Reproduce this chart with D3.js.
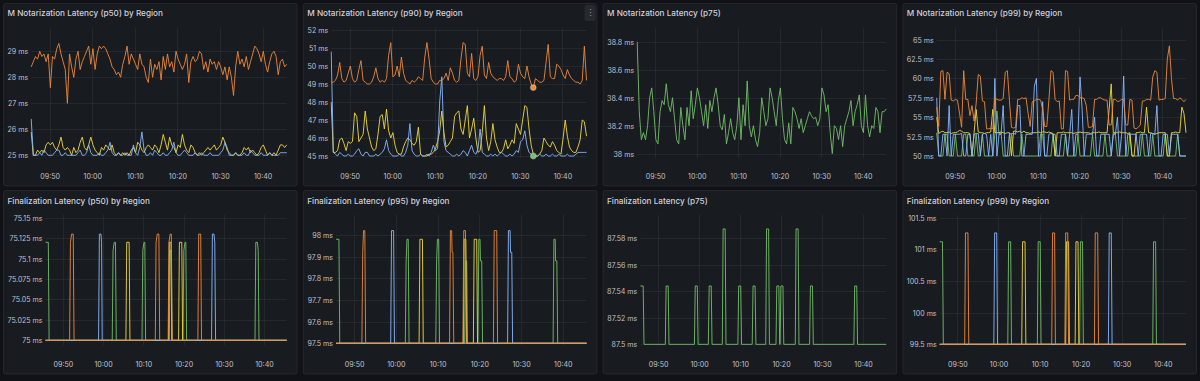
<!DOCTYPE html>
<html><head><meta charset="utf-8">
<script src="https://cdn.jsdelivr.net/npm/d3@7"></script>
<style>
html,body{margin:0;padding:0;background:#111217;}
svg{display:block;}
</style></head><body>
<svg id="c" width="1200" height="381"></svg>
<script>
// ---------- time range & ticks ----------
const T_START = "09:45:40", T_END = "10:45:40";
const X_TICKS = ["09:50","10:00","10:10","10:20","10:30","10:40"];

// ---------- y tick labels (ms) ----------
const yTicksN50 = [25,26,27,28,29];
const yTicksN90 = [45,46,47,48,49,50,51,52];
const yTicksN75 = [38,38.2,38.4,38.6,38.8];
const yTicksN99 = [50,52.5,55,57.5,60,62.5,65];
const yTicksF50 = [75,75.025,75.05,75.075,75.1,75.125,75.15];
const yTicksF95 = [97.5,97.6,97.7,97.8,97.9,98];
const yTicksF75 = [87.5,87.52,87.54,87.56,87.58];
const yTicksF99 = [99.5,100,100.5,101,101.5];

// ---------- M Notarization p50 (evenly spaced samples) ----------
const n50Yellow = [25.9,25.0,25.0,25.2,25.1,25.2,25.1,25.4,25.5,25.4,
 25.5,25.3,25.2,25.4,25.7,25.3,25.2,25.3,25.2,25.0,
 25.3,25.1,25.2,25.5,25.7,25.3,25.2,25.4,25.7,25.4,
 25.2,25.1,25.0,25.3,25.2,25.4,25.3,25.2,25.4,25.1,
 25.0,25.1,25.0,25.1,25.0,25.1,25.0,25.2,25.3,25.1,
 25.5,25.4,25.2,25.1,25.3,25.4,25.3,25.2,25.4,25.3,
 25.1,25.4,25.8,25.5,25.2,25.7,25.4,25.3,25.1,25.4,
 25.3,25.8,25.4,25.2,25.1,25.4,25.3,25.1,25.0,25.1,
 25.0,25.1,25.2,25.3,25.2,25.3,25.4,25.2,25.3,25.4,
 25.7,25.5,25.2,25.1,25.0,25.0,25.1,25.0,25.0,25.1,
 25.3,25.2,25.3,25.1,25.2,25.1,25.0,25.1,25.3,25.4,
 25.2,25.0,25.1,25.0,25.1,25.0,25.2,25.4,25.4,25.3,25.4];
const n50Blue = [26.4,25.0,25.0,25.0,25.1,25.0,25.2,25.1,25.0,25.0,
 25.0,25.1,25.2,25.2,25.0,25.0,25.1,25.0,25.0,25.0,
 25.0,25.0,25.1,25.2,25.0,25.0,25.1,25.4,25.1,25.0,
 25.0,25.0,25.1,25.0,25.0,25.1,25.2,25.5,25.1,25.0,
 25.0,25.1,25.0,25.0,25.1,25.0,25.0,25.0,25.4,25.1,
 25.0,25.3,25.9,25.2,25.0,25.0,25.1,25.0,25.2,25.1,
 25.0,25.0,25.1,25.0,25.0,25.1,25.2,25.5,25.1,25.0,
 25.0,25.1,25.2,25.1,25.0,25.0,25.0,25.1,25.0,25.0,
 25.1,25.0,25.0,25.0,25.1,25.0,25.0,25.0,25.0,25.1,
 25.2,25.5,25.3,25.0,25.0,25.0,25.1,25.0,25.0,25.0,
 25.1,25.0,25.0,25.2,25.1,25.0,25.0,25.0,25.1,25.0,
 25.0,25.0,25.1,25.0,25.0,25.0,25.0,25.1,25.1,25.1,25.1];
const n50Orange = [28.4,28.6,28.8,28.7,29.0,28.8,28.9,28.6,28.9,27.6,
 28.8,28.7,29.1,29.3,28.9,28.6,28.3,27.0,28.9,28.4,
 28.0,28.7,29.0,28.3,28.6,28.8,29.0,29.2,28.5,29.1,
 28.3,28.9,29.2,29.1,29.2,29.1,28.9,28.7,28.4,28.3,
 28.1,28.2,28.0,28.5,28.8,29.2,28.5,28.9,28.7,28.5,
 28.3,28.9,28.5,28.4,28.0,27.8,28.7,28.0,28.5,28.3,
 28.6,27.9,28.8,28.3,28.9,28.4,28.6,28.2,29.0,28.7,
 28.5,28.3,28.5,28.9,27.8,28.6,28.8,28.6,28.7,29.0,
 28.9,28.3,28.6,28.2,28.7,28.5,28.6,28.3,28.6,28.4,
 28.1,28.4,27.9,28.4,28.0,27.3,28.4,29.0,28.5,28.7,
 28.4,28.8,28.3,28.6,28.9,29.2,29.1,28.9,28.6,29.0,
 28.5,28.2,28.6,28.9,29.0,28.8,28.1,28.6,28.7,28.4,28.5];

// ---------- M Notarization p90 ----------
const n90Yellow = [48.0,45.2,45.2,45.3,45.9,46.0,45.7,45.3,45.8,45.7,
 45.8,47.4,47.2,45.8,46.0,46.2,47.5,46.5,46.0,45.5,
 45.3,45.4,46.2,47.2,47.3,46.5,47.6,46.4,46.0,46.3,
 45.6,45.2,45.1,45.1,45.5,45.8,46.0,45.9,45.7,45.6,
 45.8,46.6,45.1,45.0,45.0,45.0,45.1,45.1,45.2,45.4,
 45.8,46.4,47.5,46.3,45.5,45.6,45.8,46.0,47.2,47.4,
 47.5,46.5,46.2,47.0,47.8,46.0,46.5,47.1,46.0,45.2,
 45.3,46.3,47.8,46.0,45.3,45.8,46.8,45.9,45.5,45.2,
 45.2,45.4,45.9,45.4,45.6,45.9,45.7,46.8,46.5,46.2,
 47.0,47.8,47.7,46.5,45.6,45.1,45.0,45.0,45.1,45.3,
 46.0,45.8,45.6,45.5,45.8,45.6,45.3,45.2,45.1,46.0,
 47.0,46.1,45.5,45.3,45.2,45.2,45.5,45.9,47.0,46.9,46.1];
const n90Blue = [50.8,45.2,45.1,45.0,45.2,45.1,45.0,45.0,45.1,45.0,
 45.0,45.1,45.3,45.4,45.1,45.0,45.2,45.2,45.0,45.0,
 45.0,45.1,45.0,45.1,45.2,45.4,45.9,45.3,45.1,45.0,
 45.0,45.0,45.1,45.0,45.0,45.2,45.6,46.8,45.3,45.1,
 45.0,45.0,45.1,45.0,45.0,45.1,45.0,45.2,45.6,45.3,
 45.4,48.0,49.4,45.8,45.3,45.2,45.1,45.0,45.0,45.1,
 45.0,45.1,45.3,45.2,45.0,45.3,45.6,45.2,45.1,45.4,
 46.5,45.2,45.1,45.0,45.0,45.1,45.0,45.1,45.0,45.1,
 45.2,45.1,45.0,45.0,45.1,45.0,45.1,45.3,45.2,45.8,
 45.9,46.4,45.6,45.2,45.1,45.0,45.0,45.0,45.1,45.0,
 45.0,45.1,45.0,45.0,45.1,45.0,45.0,45.1,45.0,45.0,
 45.0,45.1,45.0,45.0,45.0,45.1,45.2,45.2,45.2,45.2,45.2];
const n90Orange = [49.1,49.1,49.2,49.5,50.2,49.3,49.1,49.2,49.6,50.0,
 49.3,49.1,49.2,49.8,50.3,49.2,49.1,49.0,49.0,49.1,
 49.4,49.9,49.3,49.1,49.2,49.1,49.3,50.6,51.3,49.4,
 49.5,50.0,49.4,50.5,49.6,49.2,49.1,49.0,49.2,49.1,
 49.2,49.4,49.3,49.2,50.5,51.3,50.4,49.3,49.1,49.0,
 49.0,49.2,49.2,49.3,49.6,49.2,49.9,49.6,49.2,49.1,
 49.2,50.4,51.3,51.2,49.6,49.4,50.7,49.3,49.2,49.4,
 50.6,51.1,49.5,49.3,50.2,49.6,49.4,49.3,49.2,49.3,
 49.3,49.2,49.4,50.3,49.4,49.3,49.1,49.2,50.1,49.6,
 49.4,49.3,50.0,49.4,49.0,48.8,49.3,49.2,49.1,49.1,
 49.2,50.2,51.2,49.4,49.3,49.3,50.1,50.0,49.8,49.5,
 49.3,49.8,49.5,49.3,49.2,49.1,49.1,49.0,49.2,51.1,49.2];
// hover markers shown in the p90 panel (sample index, value)
const n90Hover = [{color:"orange", idx:95, v:48.8},{color:"green", idx:95, v:45.0}];

// ---------- M Notarization p75 ----------
const n75Green = [38.8,38.3,38.1,38.15,38.1,38.2,38.4,38.47,38.3,38.1,
 38.07,38.3,38.38,38.35,38.5,38.35,38.3,38.4,38.25,38.1,
 38.07,38.33,38.2,38.1,38.33,38.2,38.45,38.25,38.35,38.47,
 38.4,38.3,38.2,38.35,38.18,38.38,38.3,38.4,38.47,38.35,
 38.2,38.17,38.28,38.07,38.15,38.25,38.15,38.1,38.2,38.4,
 38.1,38.35,38.2,38.52,38.2,38.12,38.2,38.1,38.05,38.15,
 38.4,38.3,38.2,38.25,38.47,38.4,38.3,38.2,38.38,38.47,
 38.25,38.1,38.07,38.22,38.07,38.33,38.3,38.25,38.18,38.25,
 38.15,38.2,38.25,38.3,38.27,38.25,38.26,38.2,38.25,38.47,
 38.42,38.3,38.35,38.15,38.0,38.2,38.18,38.1,38.2,38.05,
 38.2,38.25,38.3,38.38,38.2,38.3,38.35,38.42,38.2,38.15,
 38.42,38.2,38.12,38.2,38.18,38.33,38.3,38.15,38.3,38.3,38.32];

// ---------- M Notarization p99 ----------
const n99Green = [53.0,50,50,50,52.8,52.8,50,50,50,52.8,
 50,50,50,52.8,52.8,50,50,50,50,52.8,
 50,50,52.8,50,50,50,50,50,52.8,55.8,
 52.8,53.0,50,50,50,50,52.8,50,50,50,
 50,52.8,50,50,50,50,50,50,50,50,
 52.8,52.8,50,50,50,50,52.8,50,50,50,
 50,50,52.8,50,50,50,50,50,52.8,50,
 50,50,50,50,50,52.8,50,50,50,50,
 50,52.8,50,50,50,53.0,52.8,50,50,50,
 50,50,50,52.8,50,50,50,50,50,52.8,
 50,50,50,50,52.8,50,50,50,50,50,
 52.8,50,50,50,50,50,52.8,50,50,50,50];
const n99Yellow = [55.0,52.9,53.1,53.2,53.0,53.0,53.1,52.9,53.0,53.0,
 53.1,53.3,53.2,53.0,53.0,53.0,52.9,50.0,53.0,56.0,
 53.1,53.0,53.0,52.9,53.0,53.0,53.1,56.0,53.0,53.0,
 53.0,53.1,53.0,52.9,53.0,53.0,50.0,53.2,53.2,53.1,
 53.2,53.0,53.2,53.0,53.0,52.9,53.0,53.0,53.0,53.1,
 53.0,53.1,53.1,53.0,53.1,53.0,52.9,50.0,53.0,53.0,
 53.0,53.1,53.0,53.0,53.0,53.0,52.9,53.0,53.0,53.1,
 53.0,53.0,53.0,53.0,52.9,53.0,53.0,53.0,53.1,53.0,
 53.0,53.0,53.0,56.0,59.3,53.0,53.0,53.0,53.1,53.0,
 53.0,53.0,52.9,53.0,50.0,50.0,53.0,53.0,53.1,53.0,
 53.0,56.3,53.0,53.0,52.9,52.8,52.9,53.0,53.0,53.0,
 53.0,50.0,50.0,53.0,53.0,53.1,53.0,53.0,56.3,55.5,53.0];
const n99Blue = [57.5,50,50,52.8,52.8,50,56.5,50,52.8,52.8,
 52.8,52.8,52.9,50,50,52.8,52.8,50,52.8,52.9,
 52.9,50,52.8,52.9,52.8,50,52.8,50,60.0,50,
 52.8,52.8,56.5,50,50,52.8,52.9,52.9,52.8,56.5,
 56.5,50,50,52.8,52.8,52.8,52.8,59.0,60.0,50,
 50,57.0,50,50,52.8,52.9,52.8,52.8,50,50,
 52.8,52.8,52.8,50,52.8,56.0,50,52.8,52.8,60.2,
 56.0,50,52.8,52.8,52.8,52.8,55.0,50,50,52.8,
 52.8,52.8,52.8,52.8,50,52.8,52.8,55.0,50,52.8,
 60.3,50,52.8,52.8,52.8,52.8,52.8,50,52.8,52.8,
 52.8,52.8,50,52.9,52.9,52.8,56.5,50,50,52.8,
 52.8,52.8,50,52.8,52.8,52.8,52.8,50,50,50,50];
const n99Orange = [56.3,53.8,60.9,61.0,57.3,60.8,60.6,57.2,57.1,57.3,
 57.2,55.5,53.7,61.0,57.3,57.3,55.2,56.5,54.5,56.8,
 60.5,60.3,57.1,57.0,53.5,53.5,53.6,53.5,57.5,57.3,
 57.2,57.2,57.4,60.8,61.0,57.2,53.7,53.6,53.7,57.3,
 57.3,57.5,57.4,57.5,55.5,53.8,57.0,57.1,57.3,57.3,
 57.2,56.0,53.8,53.8,57.2,61.0,60.8,57.3,57.0,57.1,
 53.5,53.5,61.0,60.9,57.2,57.3,57.3,57.8,57.8,57.5,
 57.5,57.4,56.5,53.7,53.7,53.8,57.3,57.3,57.5,57.5,
 57.3,57.2,57.2,54.0,54.0,57.3,57.3,57.0,57.1,57.3,
 57.3,54.0,54.0,57.3,57.2,53.6,53.5,53.7,54.0,57.1,
 57.1,57.3,57.3,57.2,60.2,61.0,60.8,57.2,57.3,57.3,
 57.4,62.5,64.2,60.0,57.4,57.4,57.2,57.5,57.3,57.0,57.3];

// ---------- Finalization (points: [minutes after start, ms]) ----------
const f50Green = [[0,75.12],[0.7,75.12],[0.9,75],[16.6,75],[16.8,75.11],[17.1,75.12],[17.4,75.12],[17.6,75],
 [24.0,75],[24.2,75.11],[24.5,75.12],[24.7,75.12],[24.9,75],[30.8,75],[31.0,75.11],[31.3,75.11],[31.5,75],
 [34.2,75],[34.4,75.11],[34.7,75.12],[34.9,75.12],[35.1,75],[52.1,75],[52.3,75.12],[52.7,75.12],[52.9,75.11],[53.1,75],[60,75]];
const f50Yellow = [[0,75],[20.0,75],[20.2,75.12],[20.8,75.12],[21.0,75],[30.6,75],[30.8,75.12],[31.2,75.12],[31.4,75],
 [33.1,75],[33.3,75.12],[33.9,75.12],[34.1,75],[60,75]];
const f50Blue = [[0,75],[13.2,75],[13.4,75.13],[13.8,75.13],[13.95,75.12],[14.1,75],[41.3,75],[41.5,75.13],[41.9,75.13],[42.1,75.12],[42.3,75],[60,75]];
const f50Orange = [[0,75],[6.0,75],[6.2,75.12],[6.5,75.13],[6.9,75.13],[7.1,75],[27.3,75],[27.5,75.12],[27.8,75.13],[28.2,75.13],[28.4,75],
 [30.5,75],[30.7,75.12],[31.0,75.13],[31.3,75.13],[31.5,75],[37.9,75],[38.1,75.13],[38.6,75.13],[38.8,75],[60,75]];

const f95Green = [[0,97.98],[0.7,97.98],[0.9,97.5],[16.6,97.5],[16.8,97.88],[17.0,97.98],[17.3,97.98],[17.5,97.5],
 [23.9,97.5],[24.1,97.88],[24.3,97.98],[24.6,97.98],[24.8,97.5],[30.8,97.5],[31.0,97.88],[31.3,97.88],[31.5,97.5],
 [34.0,97.5],[34.2,97.98],[34.5,97.98],[34.6,97.88],[34.9,97.88],[35.1,97.5],[52.0,97.5],[52.2,97.98],[52.5,97.98],[52.6,97.88],[52.9,97.88],[53.1,97.5],[60,97.5]];
const f95Yellow = [[0,97.5],[19.9,97.5],[20.1,97.98],[20.7,97.98],[20.9,97.5],[30.5,97.5],[30.7,97.98],[31.1,97.98],[31.3,97.5],
 [32.9,97.5],[33.1,97.98],[33.7,97.98],[33.9,97.5],[60,97.5]];
const f95Blue = [[0,97.5],[13.1,97.5],[13.3,98.02],[13.8,98.02],[14.0,97.5],[41.1,97.5],[41.3,98.02],[41.7,98.02],[41.8,97.92],[42.1,97.92],[42.3,97.5],[60,97.5]];
const f95Orange = [[0,97.5],[6.2,97.5],[6.4,97.92],[6.6,98.02],[6.9,98.02],[7.1,97.5],[27.2,97.5],[27.4,98.02],[27.7,98.02],[27.8,97.92],[28.0,97.92],[28.2,97.5],
 [30.4,97.5],[30.6,98.02],[31.0,98.02],[31.2,97.5],[37.7,97.5],[37.9,98.02],[38.5,98.02],[38.7,97.5],[60,97.5]];

const f75Green = [[0,87.544],[0.7,87.544],[0.9,87.5],[6.1,87.5],[6.3,87.544],[6.8,87.544],[7.0,87.5],[13.2,87.5],[13.4,87.544],[13.9,87.544],[14.1,87.5],
 [16.6,87.5],[16.8,87.544],[17.3,87.544],[17.5,87.5],[20.0,87.5],[20.2,87.587],[20.7,87.587],[20.9,87.5],[23.8,87.5],[24.0,87.544],[24.5,87.544],[24.7,87.5],
 [27.3,87.5],[27.5,87.544],[28.0,87.544],[28.2,87.5],[30.6,87.5],[30.8,87.587],[31.3,87.587],[31.5,87.5],[33.1,87.5],[33.3,87.544],[33.8,87.544],[34.0,87.5],
 [34.1,87.5],[34.3,87.544],[34.8,87.544],[35.0,87.5],[37.8,87.5],[38.0,87.587],[38.5,87.587],[38.7,87.5],[41.3,87.5],[41.5,87.544],[42.0,87.544],[42.2,87.5],
 [52.1,87.5],[52.3,87.544],[52.8,87.544],[53.0,87.5],[60,87.5]];

const f99Green = [[0,101.12],[0.7,101.12],[0.9,99.5],[16.6,99.5],[16.8,101.12],[17.3,101.12],[17.5,99.5],[23.8,99.5],[24.0,101.12],[24.5,101.12],[24.7,99.5],
 [34.1,99.5],[34.3,101.12],[34.8,101.12],[35.0,99.5],[51.9,99.5],[52.1,101.12],[52.6,101.12],[52.8,99.5],[60,99.5]];
const f99Yellow = [[0,99.5],[20.0,99.5],[20.2,101.12],[20.8,101.12],[21.0,99.5],[30.7,99.5],[30.9,101.12],[31.4,101.12],[31.6,99.5],
 [33.0,99.5],[33.2,101.12],[33.7,101.12],[33.9,99.5],[60,99.5]];
const f99Blue = [[0,99.5],[13.2,99.5],[13.4,101.26],[13.9,101.26],[14.1,99.5],[41.1,99.5],[41.3,101.26],[41.8,101.26],[42.0,99.5],[60,99.5]];
const f99Orange = [[0,99.5],[6.1,99.5],[6.3,101.26],[6.9,101.26],[7.1,99.5],[27.3,99.5],[27.5,101.26],[28.0,101.26],[28.2,99.5],
 [30.5,99.5],[30.7,101.26],[31.2,101.26],[31.4,99.5],[37.7,99.5],[37.9,101.26],[38.5,101.26],[38.7,99.5],[60,99.5]];

// ---------- styling ----------
const COLORS = {green:"#73BF69", yellow:"#F2D93A", blue:"#8AB8FF", orange:"#F08A3A"};
const FONT = "Inter, 'Noto Sans', sans-serif";
const TITLE_FS = 8.2, TICK_FS = 7.1;
const PANEL_W = 294.75, GAP = 5, X0 = 3;
const ROWS = [
  {y:3,   h:183.5, plotTop:28,  plotBottom:158, titleY:13,  xLabelY:176.5},
  {y:190, h:184.5, plotTop:215, plotBottom:345, titleY:201, xLabelY:364.5}
];

// ---------- helpers ----------
const parseT = s => { const [h,m,sec] = s.split(":").map(Number); return new Date(2024,0,1,h,m,sec||0); };
const t0 = parseT(T_START), t1 = parseT(T_END);
const xTickDates = X_TICKS.map(parseT);
const fmt = d3.timeFormat("%H:%M");
const even = vals => vals.map((v,i)=>({t:new Date(+t0 + i*(t1-t0)/(vals.length-1)), v}));
const pts = arr => arr.map(([m,v])=>({t:new Date(+t0 + m*60000), v}));

const panels = [
  {row:0,col:0,title:"M Notarization Latency (p50) by Region", yTicks:yTicksN50, yDomain:[24.896,29.896],
   series:[["yellow",even(n50Yellow)],["blue",even(n50Blue)],["orange",even(n50Orange)]]},
  {row:0,col:1,title:"M Notarization Latency (p90) by Region", yTicks:yTicksN90, yDomain:[44.889,52.111], menu:true,
   series:[["yellow",even(n90Yellow)],["blue",even(n90Blue)],["orange",even(n90Orange)]],
   hover:n90Hover.map(h=>({color:h.color, t:even(n90Orange)[h.idx].t, v:h.v}))},
  {row:0,col:2,title:"M Notarization Latency (p75)", yTicks:yTicksN75, yDomain:[37.969,38.898],
   series:[["green",even(n75Green)]]},
  {row:0,col:3,title:"M Notarization Latency (p99) by Region", yTicks:yTicksN99, yDomain:[49.74,66.5],
   series:[["green",even(n99Green)],["yellow",even(n99Yellow)],["blue",even(n99Blue)],["orange",even(n99Orange)]]},
  {row:1,col:0,title:"Finalization Latency (p50) by Region", yTicks:yTicksF50, yDomain:[74.99425,75.1534],
   series:[["green",pts(f50Green)],["yellow",pts(f50Yellow)],["blue",pts(f50Blue)],["orange",pts(f50Orange)]]},
  {row:1,col:1,title:"Finalization Latency (p95) by Region", yTicks:yTicksF95, yDomain:[97.492,98.092],
   series:[["green",pts(f95Green)],["yellow",pts(f95Yellow)],["blue",pts(f95Blue)],["orange",pts(f95Orange)]]},
  {row:1,col:2,title:"Finalization Latency (p75)", yTicks:yTicksF75, yDomain:[87.4995,87.5975],
   series:[["green",pts(f75Green)]]},
  {row:1,col:3,title:"Finalization Latency (p99) by Region", yTicks:yTicksF99, yDomain:[99.489,101.543],
   series:[["green",pts(f99Green)],["yellow",pts(f99Yellow)],["blue",pts(f99Blue)],["orange",pts(f99Orange)]]}
];

const svg = d3.select("#c");
svg.append("rect").attr("width",1200).attr("height",381).attr("fill","#111217");
const defs = svg.append("defs");

panels.forEach((p,pi) => {
  const row = ROWS[p.row];
  const px = X0 + p.col*(PANEL_W+GAP);
  const g = svg.append("g");
  g.append("rect").attr("x",px+0.5).attr("y",row.y+0.5).attr("width",PANEL_W-1).attr("height",row.h-1)
    .attr("rx",2).attr("fill","#181b1f").attr("stroke","rgba(204,204,220,0.09)");
  g.append("text").attr("x",px+4.5).attr("y",row.titleY).attr("dy","0.35em")
    .attr("font-family",FONT).attr("font-size",TITLE_FS).attr("font-weight",500).attr("fill","#d0d0dc").text(p.title);

  if (p.menu) {
    g.append("rect").attr("x",px+PANEL_W-13).attr("y",row.y+2).attr("width",11).attr("height",16).attr("rx",2).attr("fill","#26292f");
    g.append("text").attr("x",px+PANEL_W-7.5).attr("y",row.y+10).attr("dy","0.35em").attr("text-anchor","middle")
      .attr("font-family",FONT).attr("font-size",9).attr("fill","#a0a0aa").text("⋮");
  }

  const fmtY = d => `${d} ms`;
  const meas = g.append("text").attr("font-family",FONT).attr("font-size",TICK_FS);
  let maxW = 0;
  p.yTicks.forEach(v => { meas.text(fmtY(v)); maxW = Math.max(maxW, meas.node().getComputedTextLength()); });
  meas.remove();
  const labelRight = px + 4.5 + maxW;
  const left = labelRight + 3, right = px + PANEL_W - 11;
  const x = d3.scaleTime().domain([t0,t1]).range([left,right]);
  const y = d3.scaleLinear().domain(p.yDomain).range([row.plotBottom,row.plotTop]);

  // grid
  const grid = g.append("g").attr("stroke","rgba(204,204,220,0.07)").attr("stroke-width",1);
  grid.selectAll("line.h").data(p.yTicks).join("line").attr("class","h")
    .attr("x1",left).attr("x2",right).attr("y1",d=>Math.round(y(d))+0.5).attr("y2",d=>Math.round(y(d))+0.5);
  grid.selectAll("line.v").data(xTickDates).join("line").attr("class","v")
    .attr("x1",d=>Math.round(x(d))+0.5).attr("x2",d=>Math.round(x(d))+0.5).attr("y1",row.plotTop).attr("y2",row.plotBottom);

  // axes
  const ya = g.append("g").attr("transform",`translate(${labelRight},0)`)
    .call(d3.axisLeft(y).tickValues(p.yTicks).tickFormat(fmtY).tickSize(0).tickPadding(0));
  ya.select(".domain").remove();
  ya.attr("font-family",FONT).attr("font-size",TICK_FS);
  ya.selectAll("text").attr("fill","#c0c1cb").attr("dy","0.35em");

  const xa = g.append("g").attr("transform",`translate(0,${row.xLabelY})`)
    .call(d3.axisBottom(x).tickValues(xTickDates).tickFormat(fmt).tickSize(0).tickPadding(0));
  xa.select(".domain").remove();
  xa.attr("font-family",FONT).attr("font-size",TICK_FS);
  xa.selectAll("text").attr("fill","#c0c1cb").attr("dy","0.35em");

  // clip
  const cid = "clip"+pi;
  defs.append("clipPath").attr("id",cid).append("rect")
    .attr("x",left-1).attr("y",row.plotTop-2).attr("width",right-left+2).attr("height",row.plotBottom-row.plotTop+4);

  const line = d3.line().x(d=>x(d.t)).y(d=>y(d.v));
  const lg = g.append("g").attr("clip-path",`url(#${cid})`);
  p.series.forEach(([c,data]) => {
    lg.append("path").attr("d",line(data)).attr("fill","none").attr("stroke",COLORS[c])
      .attr("stroke-width",1).attr("stroke-opacity",0.9).attr("stroke-linejoin","round");
  });

  if (p.hover) {
    p.hover.forEach(h => {
      g.append("circle").attr("cx",x(h.t)).attr("cy",y(h.v)).attr("r",2.8)
        .attr("fill",COLORS[h.color]).attr("stroke","rgba(255,255,255,0.3)").attr("stroke-width",1.2);
    });
  }
});
</script>
</body></html>
